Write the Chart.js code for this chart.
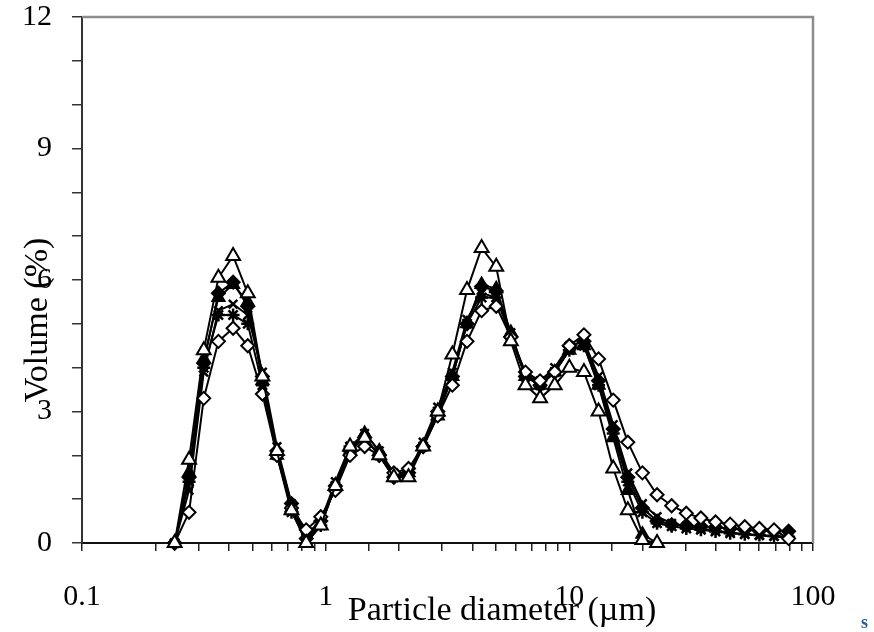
<!DOCTYPE html>
<html>
<head>
<meta charset="utf-8">
<script src="https://cdn.jsdelivr.net/npm/chart.js@4"></script>
<style>
  html, body { margin: 0; padding: 0; background: #fff; }
  #wrap { width: 874px; height: 632px; }
</style>
</head>
<body>
<div id="wrap"><canvas id="psd"></canvas></div>
<script>
'use strict';

// ----- particle size grid (µm) -----
const diameters = [
  0.240, 0.275, 0.316, 0.363, 0.417, 0.479, 0.550, 0.631, 0.724, 0.832,
  0.955, 1.096, 1.259, 1.445, 1.660, 1.905, 2.188, 2.512, 2.884, 3.311,
  3.802, 4.365, 5.012, 5.754, 6.607, 7.586, 8.710, 10.00, 11.48, 13.18,
  15.14, 17.38, 19.95, 22.91, 26.30, 30.20, 34.67, 39.81, 45.71, 52.48,
  60.26, 69.18, 79.43
];

// ----- volume fractions (%) per sample -----
const openTriangle = [
  0, 1.9, 4.4, 6.05, 6.55, 5.7, 3.8, 2.1, 0.75, 0,
  0.4, 1.3, 2.2, 2.4, 2.0, 1.5, 1.5, 2.2, 3.0, 4.3,
  5.77, 6.73, 6.3, 4.6, 3.6, 3.3, 3.6, 4.0, 3.9, 3.0,
  1.7, 0.75, 0.07, 0
];
const filledTriangle = [
  0, 1.6, 4.2, 5.6, 5.9, 5.5, 3.7, 2.0, 0.8, 0,
  0.4, 1.3, 2.1, 2.5, 2.1, 1.5, 1.6, 2.2, 2.9, 3.8,
  5.0, 5.9, 5.8, 4.8, 3.8, 3.6, 3.9, 4.4, 4.5, 3.6,
  2.4, 1.2, 0.2, 0
];
const filledDiamond = [
  0, 1.5, 4.1, 5.7, 5.95, 5.4, 3.8, 2.1, 0.9, 0.1,
  0.5, 1.3, 2.1, 2.4, 2.0, 1.5, 1.6, 2.2, 3.0, 3.8,
  5.0, 5.85, 5.75, 4.7, 3.8, 3.6, 3.9, 4.5, 4.6, 3.7,
  2.6, 1.5, 0.8, 0.5, 0.42, 0.4, 0.38, 0.36, 0.33, 0.3,
  0.28, 0.27, 0.27
];
const openDiamond = [
  0, 0.7, 3.3, 4.6, 4.9, 4.5, 3.4, 2.0, 0.8, 0.3,
  0.6, 1.2, 2.0, 2.2, 2.0, 1.6, 1.7, 2.2, 2.9, 3.6,
  4.6, 5.3, 5.4, 4.7, 3.9, 3.7, 3.9, 4.5, 4.75, 4.2,
  3.26, 2.3, 1.6, 1.1, 0.85, 0.68, 0.57, 0.48, 0.43, 0.37,
  0.33, 0.3, 0.1
];
const crossMarks = [
  0, 1.2, 3.9, 5.3, 5.45, 5.2, 3.9, 2.2, 0.9, 0.2,
  0.5, 1.4, 2.2, 2.5, 2.1, 1.6, 1.6, 2.3, 3.1, 3.9,
  5.1, 5.7, 5.6, 4.8, 3.8, 3.7, 4.0, 4.5, 4.6, 3.8,
  2.7, 1.6, 0.9, 0.6, 0.45, 0.38, 0.33, 0.28, 0.24, 0.2,
  0.17, 0.15, 0.12
];
const starMarks = [
  0, 1.4, 4.0, 5.2, 5.2, 5.0, 3.6, 2.0, 0.7, 0.1,
  0.4, 1.3, 2.2, 2.4, 2.0, 1.5, 1.6, 2.2, 3.0, 3.8,
  5.0, 5.6, 5.6, 4.7, 3.8, 3.6, 3.9, 4.4, 4.5, 3.6,
  2.5, 1.4, 0.7, 0.45, 0.38, 0.33, 0.3, 0.26, 0.22, 0.2,
  0.18, 0.16, 0.14
];

// ----- axis ticks -----
const xMin = 0.1, xMax = 100;
const yMin = 0, yMax = 12, yStep = 1, yLabelEvery = 3;

const serif = '"Liberation Serif", "Times New Roman", serif';

const toPoints = vals => vals.map((v, i) => ({ x: diameters[i], y: v }));

function series(vals, style, fill, radius, bw) {
  return {
    data: toPoints(vals),
    borderColor: '#000',
    borderWidth: 2,
    pointStyle: style,
    pointRadius: radius,
    pointBackgroundColor: fill,
    pointBorderColor: '#000',
    pointBorderWidth: bw,
    tension: 0,
    clip: false,
  };
}

// top/right frame and axis titles
const decor = {
  id: 'decor',
  beforeDatasetsDraw(chart) {
    const { ctx, chartArea: a } = chart;
    ctx.save();
    ctx.strokeStyle = '#8c8c8c';
    ctx.lineWidth = 2.5;
    ctx.beginPath();
    ctx.moveTo(a.left, a.top);
    ctx.lineTo(a.right, a.top);
    ctx.lineTo(a.right, a.bottom);
    ctx.stroke();
    ctx.restore();
  },
  afterDraw(chart) {
    const { ctx, chartArea: a } = chart;
    ctx.save();
    ctx.fillStyle = '#000';
    ctx.font = '34px ' + serif;
    ctx.textAlign = 'center';
    ctx.textBaseline = 'alphabetic';
    ctx.fillText('Particle diameter (\u00b5m)', a.left + 420, a.bottom + 77);

    ctx.translate(47, a.top + 303);
    ctx.rotate(-Math.PI / 2);
    ctx.fillText('Volume (%)', 0, 0);
    ctx.restore();

    ctx.save();
    ctx.fillStyle = '#2b5c99';
    ctx.font = 'bold 18px ' + serif;
    ctx.fillText('s', 861, 628);
    ctx.restore();
  }
};

new Chart(document.getElementById('psd'), {
  type: 'line',
  data: {
    datasets: [
      series(openTriangle, 'triangle', '#fff', 8, 2),
      series(openDiamond, 'rectRot', '#fff', 6.5, 2),
      series(crossMarks, 'crossRot', '#000', 6, 2.5),
      series(starMarks, 'star', '#000', 6.5, 2.5),
      series(filledDiamond, 'rectRot', '#000', 6.5, 2),
      series(filledTriangle, 'triangle', '#000', 7, 2),
    ]
  },
  options: {
    responsive: true,
    maintainAspectRatio: false,
    animation: false,
    devicePixelRatio: 1,
    layout: { padding: { left: 0, top: 17, right: 61, bottom: 0 } },
    plugins: {
      legend: { display: false },
      tooltip: { enabled: false }
    },
    scales: {
      x: {
        type: 'logarithmic',
        min: xMin,
        max: xMax,
        afterFit: s => {
          s.height = 89;
          s.paddingLeft = 0;
          s.paddingRight = 0;
        },
        border: { color: '#111', width: 2 },
        grid: { drawOnChartArea: false, tickLength: 8, color: '#222', lineWidth: 1.5 },
        ticks: {
          autoSkip: false,
          maxRotation: 0,
          padding: 28,
          color: '#000',
          font: { family: serif, size: 30 },
          callback: v => {
            const l = Math.log10(v);
            return Math.abs(l - Math.round(l)) < 1e-6 ? String(+v.toPrecision(3)) : '';
          }
        }
      },
      y: {
        min: yMin,
        max: yMax,
        afterFit: s => {
          s.width = 82;
          s.paddingTop = 0;
          s.paddingBottom = 0;
        },
        border: { color: '#333', width: 2 },
        grid: { drawOnChartArea: false, tickLength: 10, color: '#333', lineWidth: 1.5 },
        ticks: {
          stepSize: yStep,
          maxTicksLimit: 20,
          padding: 20,
          color: '#000',
          font: { family: serif, size: 30 },
          callback: v => (v % yLabelEvery === 0 ? v : '')
        }
      }
    }
  },
  plugins: [decor]
});
</script>
</body>
</html>
